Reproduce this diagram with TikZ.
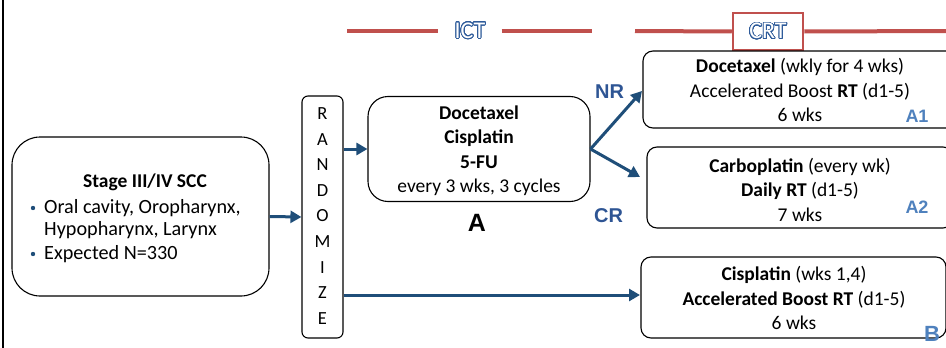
\documentclass[tikz,border=0pt]{standalone}
\usepackage{fontspec}
\setmainfont{Carlito}
\newfontfamily\arialfont{Liberation Sans}
\usepackage{contour}
\contourlength{0.8pt}
\contournumber{32}
\usetikzlibrary{arrows.meta}
\definecolor{arrowblue}{HTML}{1F4E79}
\definecolor{labblue}{HTML}{2E5594}
\definecolor{lightblue}{HTML}{4F81BD}
\definecolor{redline}{HTML}{C0504D}
\definecolor{ctblue}{HTML}{2E5B9A}
\tikzset{
  box/.style={draw=black, line width=1.1pt, rounded corners=10pt, inner sep=0pt},
  txt/.style={font=\fontsize{19.5}{24.5}\selectfont, align=center, inner sep=0pt},
  arr/.style={draw=arrowblue, line width=3pt, -{Triangle[length=11pt,width=12pt]}},
  redbar/.style={draw=redline, line width=4pt},
  rlabel/.style={font=\arialfont\bfseries\fontsize{20}{20}\selectfont, text=labblue, inner sep=0pt},
  alabel/.style={font=\arialfont\bfseries\fontsize{18}{18}\selectfont, text=lightblue, inner sep=0pt},
  hdr/.style={font=\fontsize{24}{24}\selectfont, inner sep=0pt},
}
\begin{document}
\begin{tikzpicture}[x=1pt,y=-1pt]
\useasboundingbox (0,0) rectangle (946,348);
\clip (0,0) rectangle (946,348);
% left border line
\draw[line width=2.5pt] (2.8,0) -- (2.8,348);

% header
\coordinate (ictL) at (347,31);
\coordinate (ictR) at (592,31);
\node[hdr, minimum width=63pt, minimum height=20pt] (ict) at (470,31) {\contour{ctblue}{\textcolor{white}{ICT}}};
\draw[redbar] (ictL) -- (ict.west);
\draw[redbar] (ict.east) -- (ictR);
\coordinate (crtL) at (635,31);
\coordinate (crtR) at (950,31);
\node[hdr, draw=redline, line width=2.5pt, fill=white, minimum width=70pt, minimum height=37pt] (crt) at (768,31.5) {\contour{ctblue}{\textcolor{white}{CRT}}};
\draw[redbar] (crtL) -- (crt.west);
\draw[redbar] (crt.east) -- (crtR);

% stage box
\node[box, rounded corners=28pt, minimum width=257pt, minimum height=159pt] (stage) at (140.5,216.5) {};
\node[txt] (stitle) at (145,182) {\bfseries Stage III/IV SCC};
\node[txt, font=\fontsize{20.2}{24.5}\selectfont, anchor=west] (s1) at (44,208) {Oral cavity, Oropharynx,};
\node[txt, font=\fontsize{20.2}{24.5}\selectfont, anchor=west] (s2) at (44,230.5) {Hypopharynx, Larynx};
\node[txt, font=\fontsize{20.2}{24.5}\selectfont, anchor=west] (s3) at (44,254) {Expected N=330};
\fill[arrowblue] (33,208) circle (2.2pt);
\fill[arrowblue] (33,254) circle (2.2pt);

% randomize
\node[box, rounded corners=6pt, minimum width=41pt, minimum height=242pt] (rand) at (322.5,217) {};
\node[txt, font=\fontsize{18.5}{25.6}\selectfont] (randt) at (322.5,216) {R\\A\\N\\D\\O\\M\\I\\Z\\E};

% box A
\node[box, rounded corners=20pt, minimum width=222pt, minimum height=105pt] (boxA) at (479,149) {};
\node[txt] (boxAt) at (479,150.5) {\bfseries Docetaxel\\\bfseries Cisplatin\\\bfseries 5-FU\\every 3 wks, 3 cycles};
\node[font=\arialfont\bfseries\fontsize{25}{25}\selectfont, inner sep=0pt] (labA) at (477,223) {A};

% right boxes
\node[box, minimum width=314pt, minimum height=77pt] (a1) at (800,89.5) {};
\node[txt] (a1t) at (800,90) {\textbf{Docetaxel} (wkly for 4 wks)\\Accelerated Boost \textbf{RT} (d1-5)\\6 wks};
\node[box, minimum width=306pt, minimum height=81pt] (a2) at (800,187.5) {};
\node[txt] (a2t) at (800,189.5) {\textbf{Carboplatin} (every wk)\\\textbf{Daily RT} (d1-5)\\7 wks};
\node[box, minimum width=305pt, minimum height=81pt] (b) at (793.5,297.5) {};
\node[txt] (bt) at (794,298) {\textbf{Cisplatin} (wks 1,4)\\\textbf{Accelerated Boost RT} (d1-5)\\6 wks};

\node[alabel] (la1) at (917,116) {A1};
\node[alabel] (la2) at (917,207) {A2};
\node[alabel, font=\arialfont\bfseries\fontsize{22}{22}\selectfont] (lb) at (932,334) {B};

% arrows
\draw[arr] (stage.east) -- (rand.west);
\draw[arr] (rand.east |- boxA.west) -- (boxA.west);
\coordinate (nrTip) at (642,91);
\coordinate (crTip) at (640,177);
\coordinate (bTip) at (640,295);
\draw[arr] (boxA.east) -- (nrTip);
\draw[arr] (boxA.east) -- (crTip);
\draw[arr] (rand.east |- bTip) -- (bTip);
\node[rlabel] (nr) at (609.5,92) {NR};
\node[rlabel] (cr) at (608.5,216) {CR};
\end{tikzpicture}
\end{document}
